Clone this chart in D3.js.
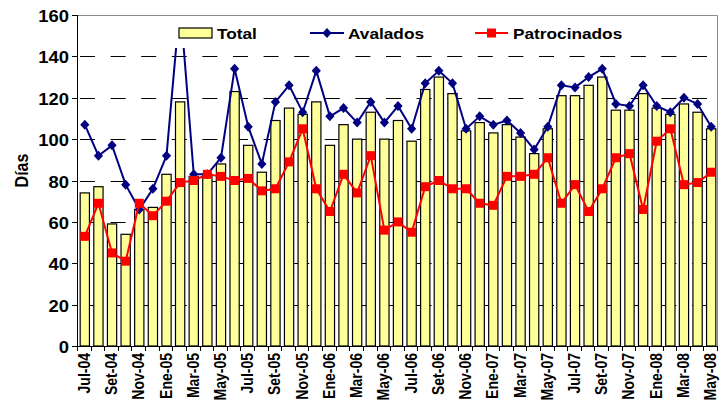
<!DOCTYPE html>
<html>
<head>
<meta charset="utf-8">
<script src="https://cdn.jsdelivr.net/npm/d3@7"></script>
<style>
  body { margin: 0; background: #fff; }
  text { font-family: "Liberation Sans", Arial, sans-serif; font-weight: bold; fill: #000; }
</style>
</head>
<body>
<div id="chart"></div>
<script>
// months Jul-04 .. May-08
var months = ['Jul-04','Ago-04','Set-04','Oct-04','Nov-04','Dic-04',
    'Ene-05','Feb-05','Mar-05','Abr-05','May-05','Jun-05','Jul-05','Ago-05','Set-05','Oct-05','Nov-05','Dic-05',
    'Ene-06','Feb-06','Mar-06','Abr-06','May-06','Jun-06','Jul-06','Ago-06','Set-06','Oct-06','Nov-06','Dic-06',
    'Ene-07','Feb-07','Mar-07','Abr-07','May-07','Jun-07','Jul-07','Ago-07','Set-07','Oct-07','Nov-07','Dic-07',
    'Ene-08','Feb-08','Mar-08','Abr-08','May-08']

var total = [74, 77, 59, 54, 66, 67,
    83, 118, 82, 83, 88, 123, 97, 84, 109, 115, 112, 118,
    97, 107, 100, 113, 100, 109, 99, 124, 130, 122, 104, 108,
    103, 107, 101, 93, 105, 121, 121, 126, 130, 114, 114, 122,
    115, 112, 117, 113, 105]

var avalados = [107, 92, 97, 78, 66, 76,
    92, 166, 83, 83, 91, 134, 106, 88, 118, 126, 113, 133,
    111, 115, 108, 118, 108, 116, 105, 127, 133, 127, 105, 111,
    107, 109, 103, 95, 106, 126, 125, 130, 134, 117, 116, 126,
    116, 113, 120, 117, 106]

var patrocinados = [53, 69, 45, 41, 69, 63,
    70, 79, 80, 83, 82, 80, 81, 75, 76, 89, 105, 76,
    65, 83, 74, 92, 56, 60, 55, 77, 80, 76, 76, 69,
    68, 82, 82, 83, 91, 69, 78, 65, 76, 91, 93, 66,
    99, 105, 78, 79, 84]

var yTicks = [0, 20, 40, 60, 80, 100, 120, 140, 160]

var margin = {top: 15, right: 7, bottom: 67, left: 78},
    width = 725 - margin.left - margin.right,
    height = 413 - margin.top - margin.bottom;

var svg = d3.select("#chart")
    .append("svg")
    .attr("width", 725)
    .attr("height", 413)
    .append("g")
    .attr("transform", "translate(" + margin.left + "," + margin.top + ")");

var x = d3.scaleBand()
    .domain(months)
    .range([0, width])
    .paddingInner(0.32)
    .paddingOuter(0.16);

var y = d3.scaleLinear()
    .domain([0, 160])
    .range([height, 0]);

var cx = function (d) { return x(d) + x.bandwidth() / 2 }

// dashed gridlines
svg.append("g")
    .selectAll("line")
    .data(yTicks.filter(function (t) { return t > 0 && t < 160 }))
    .enter()
    .append("line")
    .attr("x1", 0)
    .attr("x2", width)
    .attr("y1", function (d) { return Math.round(y(d)) + 0.5 })
    .attr("y2", function (d) { return Math.round(y(d)) + 0.5 })
    .style("stroke", "#000")
    .style("stroke-dasharray", "15,15.6")
    .style("stroke-dashoffset", -2);

// bars
svg.append("g")
    .selectAll("rect")
    .data(months)
    .enter()
    .append("rect")
    .attr("x", function (d) { return x(d) })
    .attr("width", x.bandwidth())
    .attr("y", function (d, i) { return y(total[i]) })
    .attr("height", function (d, i) { return height - y(total[i]) })
    .style("fill", "#FFFF99")
    .style("stroke", "#000")
    .style("stroke-width", 1.2);

// clip for lines
svg.append("defs").append("clipPath")
    .attr("id", "clip")
    .append("rect")
    .attr("x", 0).attr("y", 0)
    .attr("width", width).attr("height", height);

var lines = svg.append("g").attr("clip-path", "url(#clip)");

var lineGen = function (vals) {
    return d3.line()
        .x(function (d) { return cx(d) })
        .y(function (d, i) { return y(vals[i]) })
}

lines.append("path")
    .datum(months)
    .attr("d", lineGen(avalados))
    .style("fill", "none")
    .style("stroke", "#000080")
    .style("stroke-width", 2);

lines.selectAll(".diamond")
    .data(months)
    .enter()
    .append("path")
    .attr("class", "diamond")
    .attr("d", "M0,-5L4.6,0L0,5L-4.6,0Z")
    .attr("transform", function (d, i) { return "translate(" + cx(d) + "," + y(avalados[i]) + ")" })
    .style("fill", "#000080");

lines.append("path")
    .datum(months)
    .attr("d", lineGen(patrocinados))
    .style("fill", "none")
    .style("stroke", "#FF0000")
    .style("stroke-width", 2);

lines.selectAll(".square")
    .data(months)
    .enter()
    .append("rect")
    .attr("class", "square")
    .attr("x", function (d) { return cx(d) - 4.5 })
    .attr("y", function (d, i) { return y(patrocinados[i]) - 4.5 })
    .attr("width", 9)
    .attr("height", 9)
    .style("fill", "#FF0000");

// legend (white box hides the Feb-05 peak, as in the original)
var legend = svg.append("g");
legend.append("rect")
    .attr("x", 92).attr("y", 0)
    .attr("width", 460).attr("height", 33)
    .style("fill", "#fff");

legend.append("rect")
    .attr("x", 101).attr("y", 13)
    .attr("width", 33).attr("height", 10)
    .style("fill", "#FFFF99")
    .style("stroke", "#000")
    .style("stroke-width", 1.2);
legend.append("g")
    .attr("transform", "translate(139,23.5) scale(1.15,1)")
    .append("text")
    .style("font-size", "15px")
    .text("Total");

legend.append("line")
    .attr("x1", 232).attr("x2", 266)
    .attr("y1", 18).attr("y2", 18)
    .style("stroke", "#000080").style("stroke-width", 2);
legend.append("path")
    .attr("d", "M0,-5L4.6,0L0,5L-4.6,0Z")
    .attr("transform", "translate(249,18)")
    .style("fill", "#000080");
legend.append("g")
    .attr("transform", "translate(270,23.5) scale(1.15,1)")
    .append("text")
    .style("font-size", "15px")
    .text("Avalados");

legend.append("line")
    .attr("x1", 397).attr("x2", 430)
    .attr("y1", 18).attr("y2", 18)
    .style("stroke", "#FF0000").style("stroke-width", 2);
legend.append("rect")
    .attr("x", 409).attr("y", 13.5)
    .attr("width", 9).attr("height", 9)
    .style("fill", "#FF0000");
legend.append("g")
    .attr("transform", "translate(435,23.5) scale(1.15,1)")
    .append("text")
    .style("font-size", "15px")
    .text("Patrocinados");

// plot border top / right
svg.append("path")
    .attr("d", "M0," + (Math.round(y(160)) + 0.5) + "H" + (width - 0.5) + "V" + height)
    .style("fill", "none")
    .style("stroke", "#8c8c8c");

// y axis
svg.append("line")
    .attr("x1", -0.5).attr("x2", -0.5)
    .attr("y1", y(160)).attr("y2", height)
    .style("stroke", "#000");

var yAx = svg.append("g").selectAll("g")
    .data(yTicks)
    .enter()
    .append("g")
    .attr("transform", function (d) { return "translate(0," + (Math.round(y(d)) + 0.5) + ")" });
yAx.append("line")
    .attr("x1", -6).attr("x2", 0)
    .style("stroke", "#000");
yAx.append("g")
    .attr("transform", "translate(-9,6) scale(1.15,1)")
    .append("text")
    .attr("text-anchor", "end")
    .style("font-size", "16px")
    .text(function (d) { return d });

// x axis line + ticks between categories
svg.append("line")
    .attr("x1", 0).attr("x2", width)
    .attr("y1", height + 0.5).attr("y2", height + 0.5)
    .style("stroke", "#000");

var step = x.step();
svg.append("g")
    .selectAll("line")
    .data(d3.range(months.length + 1))
    .enter()
    .append("line")
    .attr("x1", function (k) { return Math.round(k * step) - 0.5 })
    .attr("x2", function (k) { return Math.round(k * step) - 0.5 })
    .attr("y1", height)
    .attr("y2", height + 5)
    .style("stroke", "#000");

svg.append("g")
    .selectAll("g")
    .data(months.filter(function (d, i) { return i % 2 === 0 }))
    .enter()
    .append("g")
    .attr("transform", function (d) { return "translate(" + (cx(d) + 5) + "," + (height + 7) + ") scale(1.15,1) rotate(-90)" })
    .append("text")
    .attr("text-anchor", "end")
    .style("font-size", "14px")
    .text(function (d) { return d });

// y label
svg.append("g")
    .attr("transform", "translate(" + (-margin.left + 28) + "," + (height / 2 - 10) + ") scale(1.15,1) rotate(-90)")
    .append("text")
    .attr("text-anchor", "middle")
    .style("font-size", "16px")
    .text("Días");
</script>
</body>
</html>
